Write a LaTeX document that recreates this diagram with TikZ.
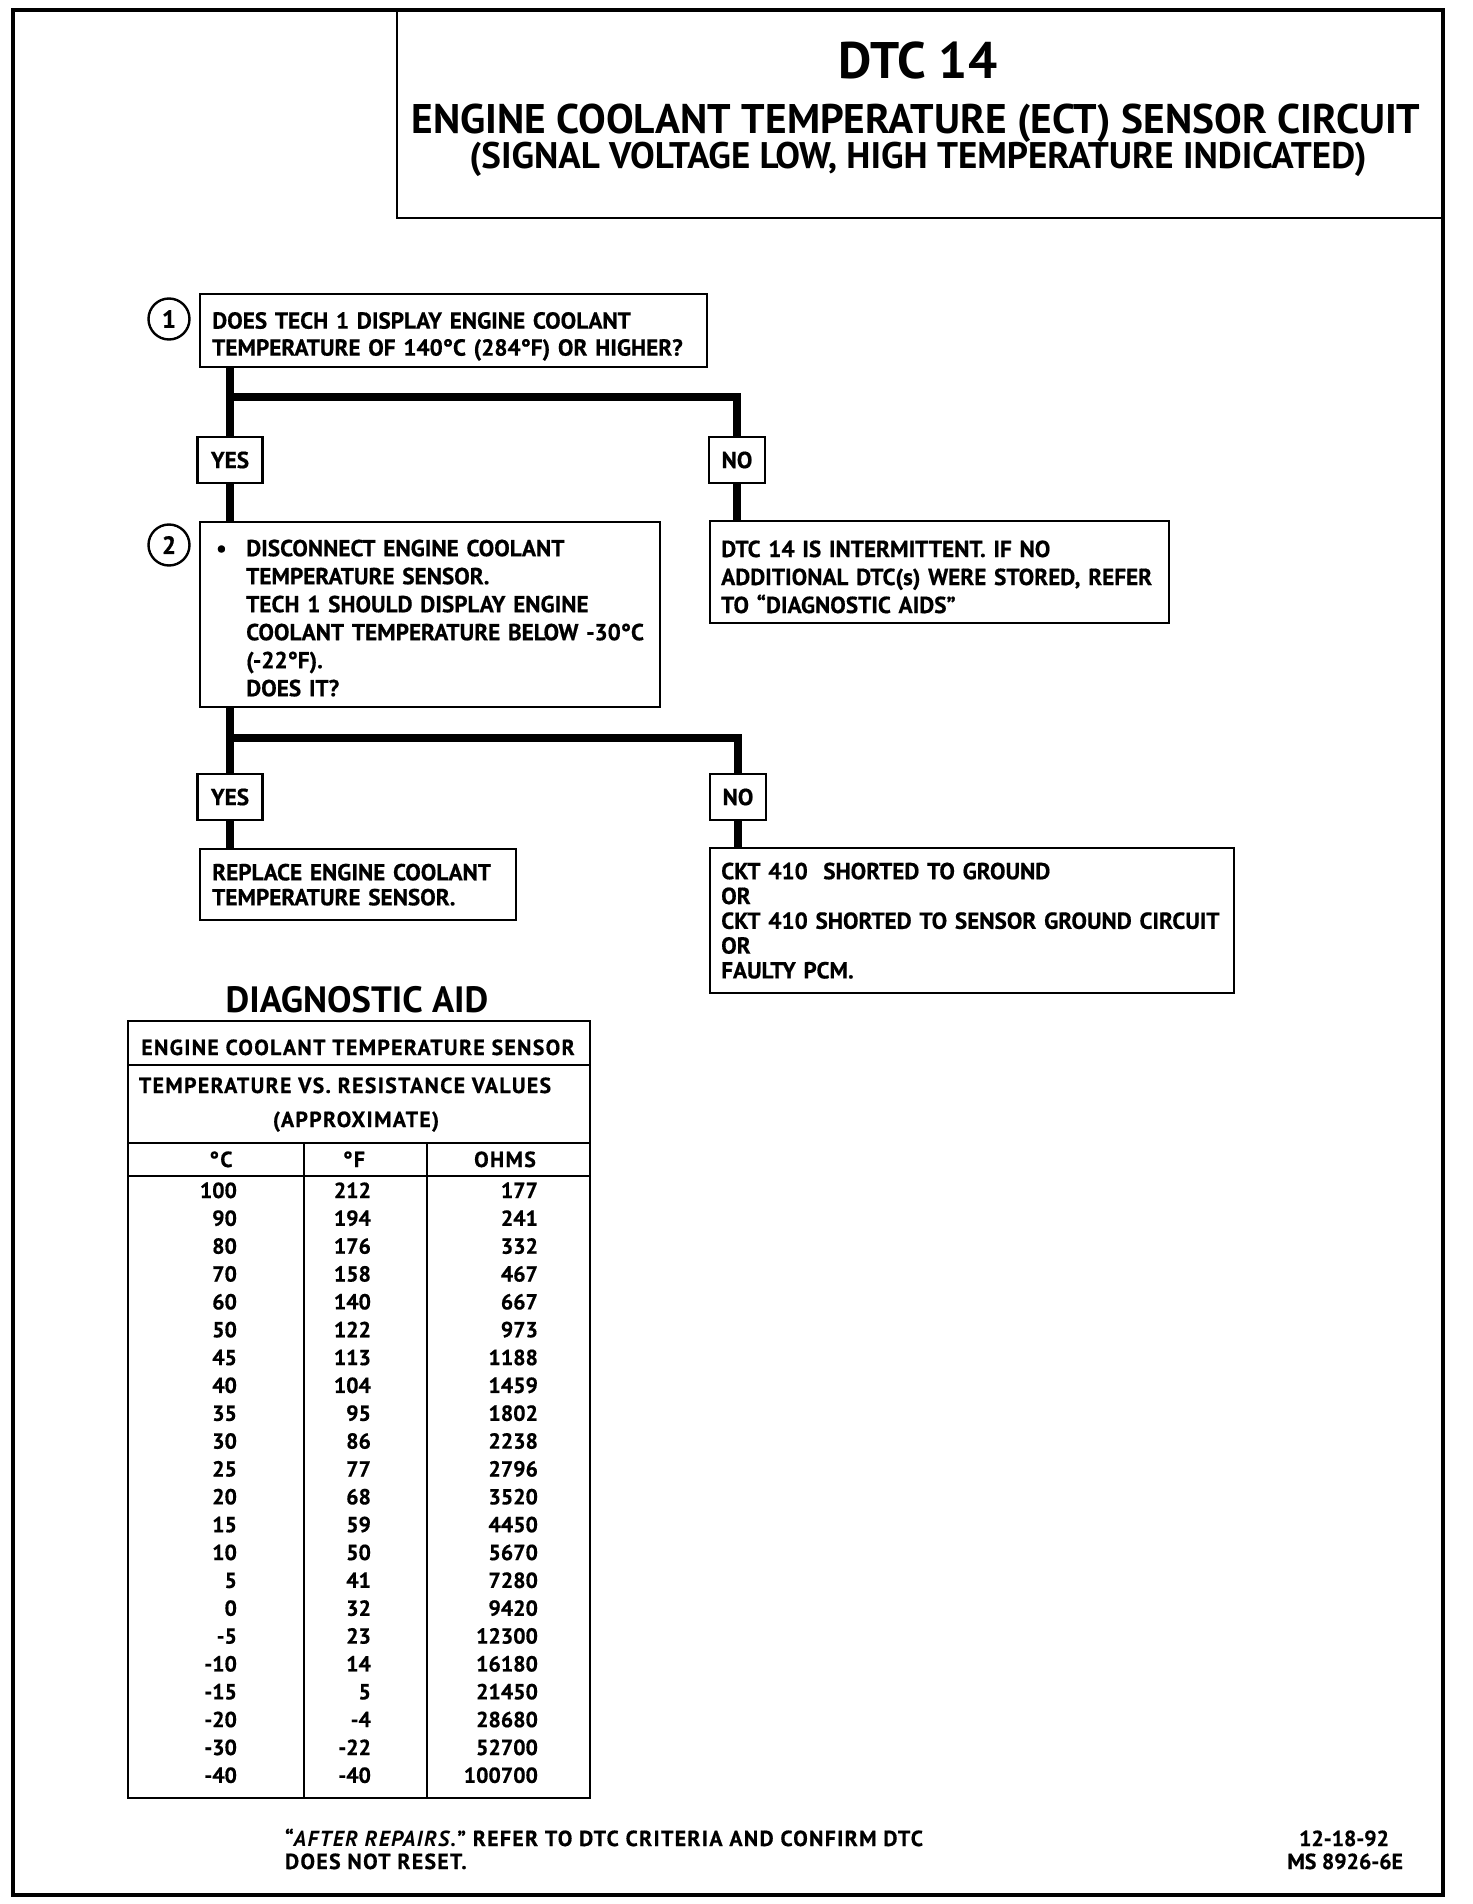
\documentclass[tikz,border=0pt]{standalone}
\usepackage{fontspec}
\setmainfont{PT Sans}[BoldFeatures={FakeBold=0.6}]
\newfontfamily\spacedfont{PT Sans}[Ligatures=TeX,LetterSpace=6,BoldFeatures={FakeBold=0.6}]
\newfontfamily\headfont{PT Sans}[Ligatures=TeX]
\usetikzlibrary{calc}

\newcommand{\flowfont}{\fontsize{11.6}{14}\selectfont\bfseries}
\newcommand{\tabfont}{\fontsize{10.9}{12}\selectfont\bfseries}
\newcommand{\wtabfont}{\spacedfont\fontsize{10.9}{12}\selectfont\bfseries}
\newcommand{\ind}{\hspace*{17pt}}

\tikzset{
  box/.style={draw,line width=1.2pt,anchor=north west,inner xsep=6pt,inner ysep=0pt,align=left,font=\flowfont},
  dropped/.style={execute at begin node={\rule{0pt}{#1}}},
  lab/.style={draw,line width=1.2pt,font=\flowfont,minimum height=23pt,inner xsep=3pt},
  conn/.style={line width=3.6pt},
  stepno/.style={draw,circle,line width=1.2pt,minimum size=20.5pt,inner sep=0pt,font=\fontsize{12.5}{14}\selectfont\bfseries},
}

\begin{document}
\begin{tikzpicture}[x=0.5pt,y=-0.5pt]
\useasboundingbox (0,0) rectangle (1472,1904);
% frame and title
\draw[line width=2.2pt] (13,10) rectangle (1443,1895);
\draw[line width=1.2pt] (397,10) rectangle (1443,218);
\node[anchor=base,font=\headfont\fontsize{25.7}{30}\selectfont\bfseries] (dtc) at (918,79) {DTC 14};
\node[anchor=base,font=\headfont\fontsize{20.7}{24}\selectfont\bfseries] (ttl) at (916,134) {ENGINE COOLANT TEMPERATURE (ECT) SENSOR CIRCUIT};
\node[anchor=base,font=\headfont\fontsize{18.5}{22}\selectfont\bfseries] (sub) at (918,169) {(SIGNAL VOLTAGE LOW, HIGH TEMPERATURE INDICATED)};

% step 1
\node[stepno] (n1) at (169,319) {1};
\node[box,dropped=14pt,text width=241.5pt,minimum height=36.5pt,font=\fontsize{11.6}{13.5}\selectfont\bfseries] (q1) at (199,293)
  {DOES TECH 1 DISPLAY ENGINE COOLANT\\TEMPERATURE OF 140°C (284°F) OR HIGHER?};
\node[lab,minimum width=32.5pt] (yes1) at (230,460) {YES};
\node[lab,minimum width=28pt] (no1) at (737,460) {NO};
\coordinate (s1) at (230,397);

% step 2
\node[stepno] (n2) at (169,545) {2};
\node[box,dropped=11.7pt,text width=218pt,minimum height=92.5pt] (q2) at (199,521)
  {\makebox[17pt][l]{\hspace{2pt}\textbullet}DISCONNECT ENGINE COOLANT\\\ind TEMPERATURE SENSOR.\\\ind TECH 1 SHOULD DISPLAY ENGINE\\\ind COOLANT TEMPERATURE BELOW -30°C\\\ind (-22°F).\\\ind DOES IT?};
\node[box,dropped=13pt,inner xsep=5.5pt,text width=218.5pt,minimum height=51pt] (r1) at (709,520)
  {DTC 14 IS INTERMITTENT. IF NO\\ADDITIONAL DTC(s) WERE STORED, REFER\\TO ``DIAGNOSTIC AIDS''};
\node[lab,minimum width=32.5pt] (yes2) at (230,797) {YES};
\node[lab,minimum width=28pt] (no2) at (738,797) {NO};
\coordinate (s2) at (230,738);

% results
\node[box,text width=146pt,minimum height=35.5pt,font=\fontsize{11.6}{12.5}\selectfont\bfseries] (r2) at (199,848)
  {REPLACE ENGINE COOLANT\\TEMPERATURE SENSOR.};
\node[box,inner xsep=5.5pt,text width=251pt,minimum height=72.5pt,font=\fontsize{11.6}{12.4}\selectfont\bfseries] (r3) at (709,847)
  {CKT 410\ \ SHORTED TO GROUND\\OR\\CKT 410 SHORTED TO SENSOR GROUND CIRCUIT\\OR\\FAULTY PCM.};

% connectors
\draw[conn] (yes1 |- q1.south) -- (yes1.north);
\draw[conn] (yes1.south) -- (yes1 |- q2.north);
\draw[conn] (s1) -| (no1.north);
\draw[conn] (no1.south) -- (no1 |- r1.north);
\draw[conn] (yes2 |- q2.south) -- (yes2.north);
\draw[conn] (yes2.south) -- (yes2 |- r2.north);
\draw[conn] (s2) -| (no2.north);
\draw[conn] (no2.south) -- (no2 |- r3.north);

% diagnostic aid table
\node[anchor=base,font=\headfont\fontsize{18.3}{20}\selectfont\bfseries] (aid) at (357,1012) {DIAGNOSTIC AID};
\draw[line width=1.2pt] (128,1021) rectangle (590,1798);
\draw[line width=1.2pt] (128,1065) -- (590,1065) (128,1143) -- (590,1143) (128,1176) -- (590,1176)
  (304,1143) -- (304,1798) (427,1143) -- (427,1798);
\node[anchor=base,font=\wtabfont] (th1) at (358,1055) {ENGINE COOLANT TEMPERATURE SENSOR};
\node[anchor=base,font=\wtabfont] (th2) at (345,1093) {TEMPERATURE VS. RESISTANCE VALUES};
\node[anchor=base,font=\wtabfont] (th3) at (356,1127) {(APPROXIMATE)};
\node[anchor=base,font=\wtabfont] (hc) at (221,1167) {°C};
\node[anchor=base,font=\wtabfont] (hf) at (354,1167) {°F};
\node[anchor=base,font=\wtabfont] (ho) at (505,1167) {OHMS};
\foreach \c/\f/\r [count=\i from 0] in {100/212/177,90/194/241,80/176/332,70/158/467,60/140/667,50/122/973,
  45/113/1188,40/104/1459,35/95/1802,30/86/2238,25/77/2796,20/68/3520,15/59/4450,10/50/5670,5/41/7280,
  0/32/9420,-5/23/12300,-10/14/16180,-15/5/21450,-20/-4/28680,-30/-22/52700,-40/-40/100700}{
  \node[anchor=base east,font=\tabfont] (c\i) at (244,{1198+27.85*\i}) {\c};
  \node[anchor=base east,font=\tabfont] (f\i) at (378,{1198+27.85*\i}) {\f};
  \node[anchor=base east,font=\tabfont] (o\i) at (545,{1198+27.85*\i}) {\r};
}

% footer
\node[anchor=base west,font=\wtabfont] (ft1) at (278,1846) {``\textit{AFTER REPAIRS.}'' REFER TO DTC CRITERIA AND CONFIRM DTC};
\node[anchor=base west,font=\wtabfont] (ft2) at (278,1869) {DOES NOT RESET.};
\node[anchor=base east,font=\tabfont] (date) at (1396,1846) {12-18-92};
\node[anchor=base east,font=\tabfont] (ms) at (1410,1869) {MS 8926-6E};
\end{tikzpicture}
\end{document}
